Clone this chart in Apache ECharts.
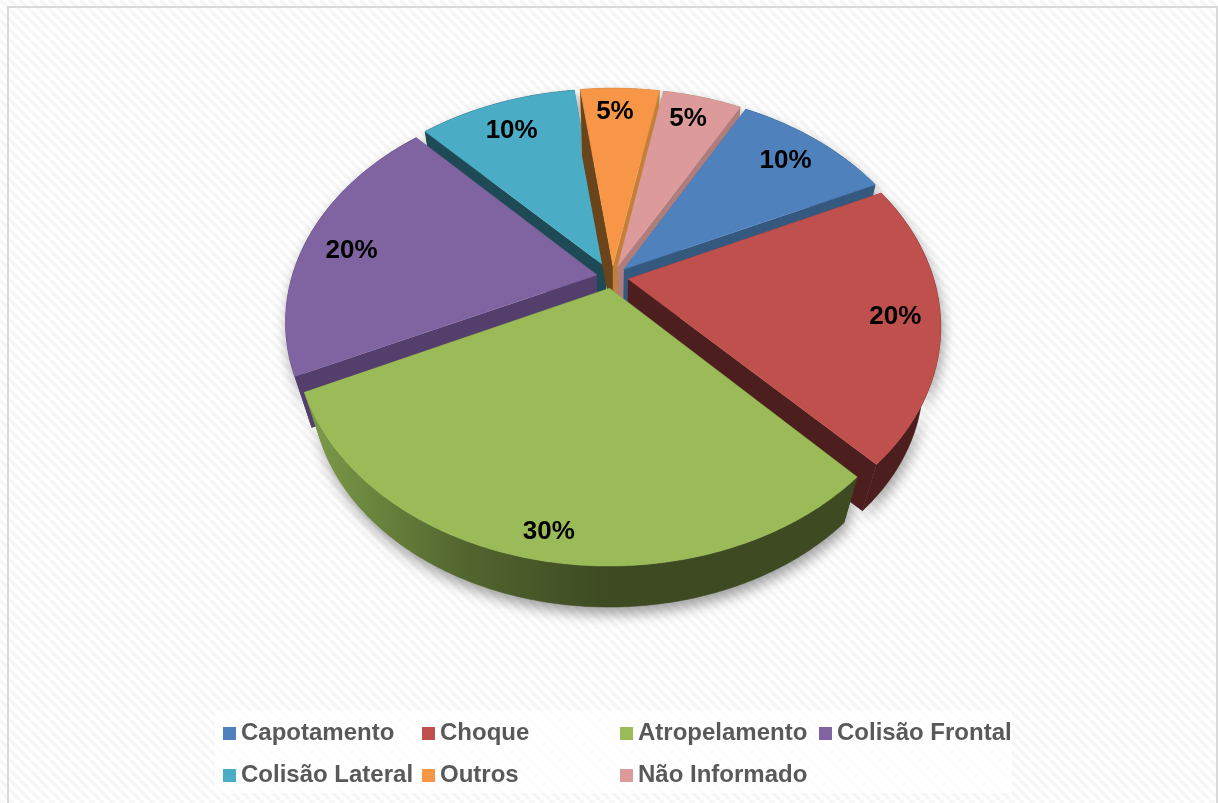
<!DOCTYPE html>
<html>
<head>
<meta charset="utf-8">
<style>html,body{margin:0;padding:0;background:#fff}#c{width:1218px;height:803px}</style>
<script src="https://cdn.jsdelivr.net/npm/echarts@6/dist/echarts.min.js"></script>
</head>
<body>
<div id="c"></div>
<script>
const categories = ['Capotamento','Choque','Atropelamento','Colisão Frontal','Colisão Lateral','Outros','Não Informado'];
const values = [10,20,30,20,10,5,5];
const topColors = ['#4f81bd','#c0504d','#9bbb59','#8064a2','#4bacc6','#f79646','#dd9a9a'];
const wallColors = ['#35587f','#4d1e1e','#3d4a22','#533e6c','#1e4a55','#c27f35','#b07d7d'];
const leftWallColors = ['#35587f','#4d1e1e','#3d4a22','#533e6c','#1e4a55','#6a441b','#b07d7d'];
const drawOrder = [4,5,6,0,3,1,2];
const labelFractions = [0.875,0.912,0.965,0.885,0.865,0.90,0.90];
const labelAngleShift = [0,0.5,-0.5,-2.6,-0.8,-1,-0.8];

const VIEW = {cx:612.5, cy:277, R:305, tilt:0.712, persp:5, explode:0.052, startDeg:28.6,
              depthScale:0.946, vanishY:1326};
const total = values.reduce((a,b)=>a+b,0);

function project(X,Y,bottom){
  const s = VIEW.persp/(VIEW.persp-Y);
  let x = VIEW.cx + VIEW.R*X*s, y = VIEW.cy + VIEW.R*VIEW.tilt*Y*s;
  if(bottom){
    x = VIEW.cx + (x-VIEW.cx)*VIEW.depthScale;
    y = VIEW.vanishY + (y-VIEW.vanishY)*VIEW.depthScale;
  }
  return [x,y];
}
function sliceAngles(i){
  let a = VIEW.startDeg;
  for(let k=0;k<i;k++) a += values[k]/total*360;
  return [a, a+values[i]/total*360];
}
function pt(deg,r,ox,oy,bottom){
  const t = deg*Math.PI/180;
  return project(ox+r*Math.sin(t), oy-r*Math.cos(t), bottom);
}
function renderSlice(i){
  return function(params, api){
    const v = api.value(0);
    const [a0,a1] = sliceAngles(i);
    const mid = (a0+a1)/2, mt = mid*Math.PI/180;
    const ox = VIEW.explode*Math.sin(mt), oy = -VIEW.explode*Math.cos(mt);
    const arcT=[], arcB=[];
    const n = Math.ceil((a1-a0)*2);
    for(let k=0;k<=n;k++){
      const d = a0+(a1-a0)*k/n;
      arcT.push(pt(d,1,ox,oy,false));
      arcB.push(pt(d,1,ox,oy,true));
    }
    const apexT = project(ox,oy,false), apexB = project(ox,oy,true);
    const depth = drawOrder.indexOf(i)*10+10;
    const wallFill = i===2 ? {type:'linear',x:312,y:0,x2:610,y2:0,global:true,colorStops:[
      {offset:0,color:'#7b9a48'},{offset:0.5,color:'#53662f'},{offset:1,color:'#3d4a22'}]} : wallColors[i];
    const lp = pt(mid+labelAngleShift[i],labelFractions[i],0,0,false);
    return {type:'group',children:[
      {type:'polygon',z2:1,silent:true,shape:{points:arcT.concat(arcB.slice().reverse())},
       style:{fill:'#888',shadowColor:'rgba(0,0,0,0.38)',shadowBlur:14,shadowOffsetX:2,shadowOffsetY:7}},
      {type:'polygon',z2:depth-1,shape:{points:arcT.concat(arcB.slice().reverse())},style:{fill:wallFill,stroke:wallFill,lineWidth:0.5}},
      {type:'polygon',z2:depth,shape:{points:[apexT,arcT[0],arcB[0],apexB]},style:{fill:leftWallColors[i]}},
      {type:'polygon',z2:depth,shape:{points:[apexT,arcT[n],arcB[n],apexB]},style:{fill:wallFill}},
      {type:'polygon',z2:depth+2,shape:{points:[apexT].concat(arcT)},style:{fill:topColors[i],stroke:topColors[i],lineWidth:0.5}},
      {type:'text',z2:200,x:lp[0],y:lp[1],style:{text:Math.round(v/total*100)+'%',
        fill:'#000',font:'bold 26px "Liberation Sans", Arial, sans-serif',align:'center',verticalAlign:'middle'}}
    ]};
  };
}

const tile = document.createElement('canvas');
tile.width = 10; tile.height = 10;
(function(){
  const g = tile.getContext('2d');
  g.fillStyle='#ffffff'; g.fillRect(0,0,10,10);
  g.strokeStyle='#f6f6f6'; g.lineWidth=3.5;
  for(let o=-20;o<=20;o+=10){ g.beginPath(); g.moveTo(o,0); g.lineTo(o+10,10); g.stroke(); }
})();

function legendCol(names,left){
  return {orient:'vertical',left:left,top:720,padding:0,itemGap:15,itemWidth:13,itemHeight:13,icon:'rect',
    data:names,selectedMode:false,
    textStyle:{color:'#595959',fontFamily:'"Liberation Sans", Arial, sans-serif',fontWeight:'bold',fontSize:24,lineHeight:27,height:27}};
}

const chart = echarts.init(document.getElementById('c'),null,{renderer:'canvas'});
chart.setOption({
  animation:false,
  backgroundColor:'#ffffff',
  graphic:[
    {type:'rect',z:-10,silent:true,shape:{x:0,y:0,width:1218,height:803},style:{fill:{image:tile,repeat:'repeat'}}},
    {type:'rect',z:-9,silent:true,shape:{x:215,y:711,width:797,height:82},style:{fill:'rgba(255,255,255,0.8)'}},
    {type:'rect',z:-8,silent:true,shape:{x:8,y:7,width:1209,height:800},style:{fill:'none',stroke:'#d9d9d9',lineWidth:2}}
  ],
  legend:[
    legendCol([categories[0],categories[4]],223),
    legendCol([categories[1],categories[5]],422),
    legendCol([categories[2],categories[6]],620),
    legendCol([categories[3]],819)
  ],
  series:categories.map((name,i)=>({
    type:'custom',name:name,coordinateSystem:'none',z:2,
    itemStyle:{color:topColors[i]},
    renderItem:renderSlice(i),
    data:[[values[i]]]
  }))
});
</script>
</body>
</html>
